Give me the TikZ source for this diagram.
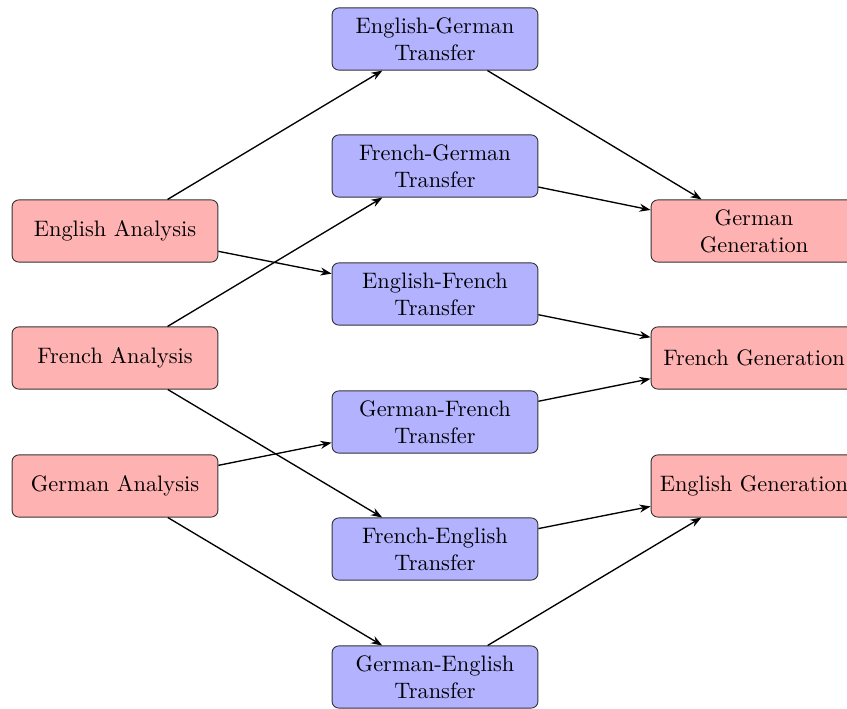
\documentclass[tikz,border=0pt]{standalone}
\usetikzlibrary{arrows.meta}
\begin{document}
\begin{tikzpicture}[x=0.447pt, y=-0.447pt,
  box/.style={draw=black!80, rounded corners=3pt, text width=3cm, align=center,
    minimum height=27.8pt, inner sep=3.33pt, font=\normalsize},
  analysis/.style={box, fill=red!30},
  transfer/.style={box, fill=blue!30},
  link/.style={-{Stealth[length=5pt,width=3.6pt]}, semithick}]
\useasboundingbox (0,0) rectangle (847,709);

% source-language analysis
\node[analysis] (ea) at (115,231) {English Analysis};
\node[analysis] (fa) at (115,358) {French Analysis};
\node[analysis] (ga) at (115,486) {German Analysis};

% pairwise transfer modules
\node[transfer] (eg) at (435,39)  {English-German Transfer};
\node[transfer] (fg) at (435,166) {French-German Transfer};
\node[transfer] (ef) at (435,294) {English-French Transfer};
\node[transfer] (gf) at (435,422) {German-French Transfer};
\node[transfer] (fe) at (435,549) {French-English Transfer};
\node[transfer] (ge) at (435,677) {German-English Transfer};

% target-language generation
\node[analysis] (gg) at (754,231) {German Generation};
\node[analysis] (fgen) at (754,358) {French Generation};
\node[analysis] (egen) at (754,486) {English Generation};

% analysis -> transfer
\draw[link] (ea) -- (eg);
\draw[link] (ea) -- (ef);
\draw[link] (fa) -- (fg);
\draw[link] (fa) -- (fe);
\draw[link] (ga) -- (gf);
\draw[link] (ga) -- (ge);

% transfer -> generation
\draw[link] (eg) -- (gg);
\draw[link] (fg) -- (gg);
\draw[link] (ef) -- (fgen);
\draw[link] (gf) -- (fgen);
\draw[link] (fe) -- (egen);
\draw[link] (ge) -- (egen);
\end{tikzpicture}
\end{document}
